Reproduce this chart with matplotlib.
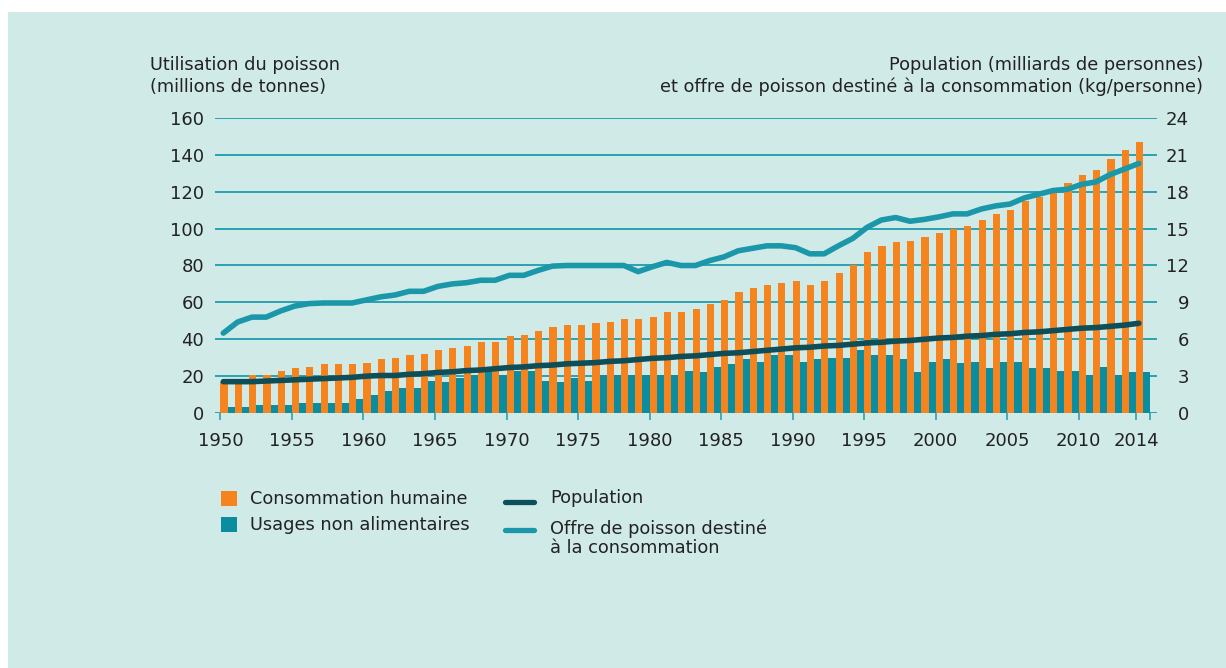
import matplotlib
matplotlib.use('Agg')
import matplotlib.pyplot as plt
import numpy as np
from matplotlib.patches import Rectangle
from matplotlib.lines import Line2D

plt.rcParams['font.family'] = ['DejaVu Sans']

# Data (1950-2014)
years = list(range(1950, 2015))

# Utilisation du poisson (millions de tonnes)
consommation_humaine = [
    16.7, 16.7, 20.4, 20.4, 22.7, 24.2, 24.9, 26.4, 26.4, 26.4,
    27.1, 29.3, 30.0, 31.5, 32.2, 34.4, 35.1, 36.5, 38.7, 38.7,
    41.6, 42.4, 44.5, 46.7, 47.5, 47.5, 48.9, 49.6, 51.1, 51.1,
    51.8, 54.7, 54.7, 56.2, 59.1, 61.3, 65.6, 67.8, 69.3, 70.7,
    71.5, 69.3, 71.5, 75.8, 80.2, 87.5, 90.4, 92.5, 93.3, 95.5,
    97.6, 99.8, 101.3, 104.9, 107.8, 110.0, 115.0, 117.3, 119.5, 124.5,
    128.9, 131.8, 137.6, 142.7, 147.1,
]
usages_non_alimentaires = [
    3.1, 3.1, 4.5, 4.5, 4.5, 5.3, 5.3, 5.3, 5.3, 7.5,
    9.6, 11.8, 13.3, 13.3, 17.6, 16.7, 19.1, 20.5, 22.7, 20.5,
    23.0, 23.0, 17.6, 16.7, 19.1, 17.6, 20.5, 20.5, 20.5, 20.5,
    20.5, 20.5, 22.7, 22.0, 24.9, 26.4, 29.3, 27.8, 31.5, 31.5,
    27.8, 29.3, 30.0, 30.0, 34.4, 31.5, 31.5, 29.3, 22.0, 27.8,
    29.3, 27.1, 27.8, 24.2, 27.8, 27.8, 24.2, 24.2, 22.7, 22.7,
    20.5, 24.9, 20.5, 22.0, 22.0,
]

# Population (milliards de personnes)
population = [
    2.55, 2.55, 2.55, 2.6, 2.65, 2.7, 2.75, 2.8, 2.85, 2.9,
    3.0, 3.05, 3.05, 3.15, 3.2, 3.3, 3.35, 3.45, 3.5, 3.6,
    3.7, 3.75, 3.85, 3.9, 4.0, 4.05, 4.1, 4.2, 4.25, 4.35,
    4.45, 4.5, 4.6, 4.65, 4.75, 4.85, 4.9, 5.0, 5.1, 5.2,
    5.3, 5.35, 5.45, 5.5, 5.6, 5.7, 5.75, 5.85, 5.9, 6.0,
    6.1, 6.15, 6.25, 6.3, 6.4, 6.45, 6.55, 6.6, 6.7, 6.8,
    6.9, 6.95, 7.05, 7.15, 7.3,
]

# Offre de poisson destiné à la consommation (kg/personne)
offre_par_personne = [
    6.5, 7.4, 7.8, 7.8, 8.3, 8.7, 8.9, 8.95, 8.95, 8.95,
    9.2, 9.45, 9.6, 9.9, 9.9, 10.3, 10.5, 10.6, 10.8, 10.8,
    11.2, 11.2, 11.6, 11.95, 12.0, 12.0, 12.0, 12.0, 12.0, 11.5,
    11.9, 12.25, 12.0, 12.0, 12.4, 12.7, 13.2, 13.4, 13.6, 13.6,
    13.45, 12.95, 12.95, 13.6, 14.2, 15.1, 15.7, 15.9, 15.6, 15.75,
    15.95, 16.2, 16.2, 16.6, 16.85, 17.0, 17.5, 17.8, 18.1, 18.2,
    18.6, 18.8, 19.4, 19.85, 20.3,
]

left_ticks = [0, 20, 40, 60, 80, 100, 120, 140, 160]
right_ticks = [0, 3, 6, 9, 12, 15, 18, 21, 24]
x_ticks = [1950, 1955, 1960, 1965, 1970, 1975, 1980, 1985, 1990, 1995,
           2000, 2005, 2010, 2014, 2015]
x_labels = ['1950', '1955', '1960', '1965', '1970', '1975', '1980', '1985',
            '1990', '1995', '2000', '2005', '2010', '2014', '']

bg = '#d0eae8'
orange = '#f5841f'
teal_bar = '#0a8e9f'
pop_col = '#0d4e58'
offre_col = '#1a97a9'
grid_col = '#2ba2b3'
txt = '#222222'

W, H = 1226, 668
fig = plt.figure(figsize=(W / 100, H / 100), dpi=100, facecolor='white')
# panel background (white margin at top and left like the reference)
fig.patches.append(Rectangle((8 / W, 0), 1 - 8 / W, 1 - 12 / H, transform=fig.transFigure,
                             facecolor=bg, edgecolor='none', zorder=-10))

ax = fig.add_axes([215 / W, 1 - 413 / H, (1157 - 215) / W, (413 - 118) / H])
ax.set_facecolor('none')
x = np.array(years)

ax.bar(x, consommation_humaine, width=0.5, align='edge', color=orange, zorder=2)
ax.bar(x + 0.5, usages_non_alimentaires, width=0.5, align='edge', color=teal_bar, zorder=2)

ax.set_xlim(1949.62, 2015.47)
ax.set_ylim(0, 160)
ax.set_yticks(left_ticks)
ax.set_yticklabels([str(v) for v in left_ticks])
for y in left_ticks:
    ax.axhline(y, color=grid_col, lw=1.4, zorder=1)
for s in ax.spines.values():
    s.set_visible(False)
ax.tick_params(axis='y', length=0, pad=8, labelsize=13, labelcolor=txt)
ax.set_xticks(x_ticks)
ax.set_xticklabels(x_labels)
ax.tick_params(axis='x', direction='out', length=5, width=1.2, color=grid_col,
               pad=9, labelsize=13, labelcolor=txt)

ax2 = ax.twinx()
ax2.set_ylim(0, 24)
ax2.set_yticks(right_ticks)
ax2.set_yticklabels([str(v) for v in right_ticks])
for s in ax2.spines.values():
    s.set_visible(False)
ax2.tick_params(axis='y', length=0, pad=23, labelsize=13, labelcolor=txt)
for lab in ax2.get_yticklabels():
    lab.set_horizontalalignment('right')

ax2.plot(x + 0.2, population, color=pop_col, lw=4, solid_capstyle='round', zorder=3)
ax2.plot(x + 0.2, offre_par_personne, color=offre_col, lw=4, solid_capstyle='round', zorder=3)

# axis headers
fig.text(150 / W, 1 - 56 / H, 'Utilisation du poisson\n(millions de tonnes)',
         ha='left', va='top', fontsize=12.8, color=txt, linespacing=1.25)
fig.text(1203 / W, 1 - 56 / H,
         'Population (milliards de personnes)\net offre de poisson destiné à la consommation (kg/personne)',
         ha='right', va='top', fontsize=12.8, color=txt, linespacing=1.25, multialignment='right')

# legend drawn by hand to match the layout
fig.patches.append(Rectangle((221 / W, 1 - 506 / H), 16 / W, 15 / H, transform=fig.transFigure,
                             facecolor=orange, edgecolor='none'))
fig.patches.append(Rectangle((221 / W, 1 - 532 / H), 16 / W, 15 / H, transform=fig.transFigure,
                             facecolor=teal_bar, edgecolor='none'))
fig.text(250 / W, 1 - 499 / H, 'Consommation humaine', ha='left', va='center',
         fontsize=12.8, color=txt)
fig.text(250 / W, 1 - 525 / H, 'Usages non alimentaires', ha='left', va='center',
         fontsize=12.8, color=txt)
fig.add_artist(Line2D([505 / W, 534 / W], [1 - 502 / H, 1 - 502 / H], transform=fig.transFigure,
                      color=pop_col, lw=3.8, solid_capstyle='round'))
fig.add_artist(Line2D([505 / W, 534 / W], [1 - 530 / H, 1 - 530 / H], transform=fig.transFigure,
                      color=offre_col, lw=3.8, solid_capstyle='round'))
fig.text(550 / W, 1 - 498 / H, 'Population', ha='left', va='center', fontsize=12.8, color=txt)
fig.text(550 / W, 1 - 538.5 / H, 'Offre de poisson destiné\nà la consommation', ha='left',
         va='center', fontsize=12.8, color=txt, linespacing=1.08)

fig.savefig('out.png', dpi=100, facecolor='white')
